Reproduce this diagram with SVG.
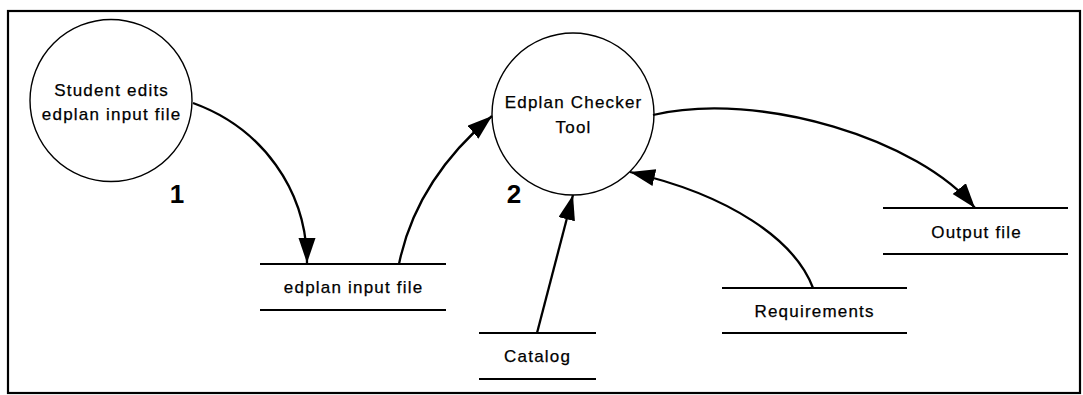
<svg xmlns="http://www.w3.org/2000/svg" width="1083" height="395" viewBox="0 0 1083 395">
<style>
.frame{fill:#fff;stroke:#000;stroke-width:2.2}
.proc{fill:#fff;stroke:#000;stroke-width:1.4}
.store{stroke:#000;stroke-width:2}
.conn{fill:none;stroke:#000;stroke-width:2.3}
.lbl{font-family:"Liberation Sans",Arial,sans-serif;font-size:17px;letter-spacing:1.2px;text-anchor:middle;fill:#000;stroke:#000;stroke-width:0.25}
.num{font-family:"Liberation Sans",Arial,sans-serif;font-size:26px;font-weight:bold;text-anchor:middle;fill:#000}
</style>
<defs>
<marker id="arr" markerUnits="userSpaceOnUse" markerWidth="27" markerHeight="19" refX="25" refY="8.5" orient="auto">
<path d="M0,0 L25,8.5 L0,17 z" fill="#000"/>
</marker>
</defs>
<rect class="frame" x="8" y="11" width="1072" height="382"/>
<g id="p1">
<circle class="proc" cx="111" cy="100.5" r="81"/>
<text class="lbl" x="111.6" y="96">Student edits</text>
<text class="lbl" x="111.6" y="120">edplan input file</text>
<text class="num" x="177" y="203">1</text>
</g>
<g id="p2">
<circle class="proc" cx="573" cy="114" r="81"/>
<text class="lbl" x="573.6" y="107.5">Edplan Checker</text>
<text class="lbl" x="573.6" y="132.5">Tool</text>
<text class="num" x="514" y="203">2</text>
</g>
<g id="s-input">
<line class="store" x1="260" y1="264" x2="446" y2="264"/>
<line class="store" x1="260" y1="310" x2="446" y2="310"/>
<text class="lbl" x="353.6" y="292.5">edplan input file</text>
</g>
<g id="s-catalog">
<line class="store" x1="479" y1="333" x2="596" y2="333"/>
<line class="store" x1="479" y1="379" x2="596" y2="379"/>
<text class="lbl" x="537.6" y="362">Catalog</text>
</g>
<g id="s-req">
<line class="store" x1="722" y1="288" x2="907" y2="288"/>
<line class="store" x1="722" y1="333" x2="907" y2="333"/>
<text class="lbl" x="814.6" y="317">Requirements</text>
</g>
<g id="s-out">
<line class="store" x1="883" y1="208" x2="1068" y2="208"/>
<line class="store" x1="883" y1="254" x2="1068" y2="254"/>
<text class="lbl" x="976.6" y="237.5">Output file</text>
</g>
<g id="connectors">
<path class="conn" marker-end="url(#arr)" d="M193,103 C262,128 307,190 307,263"/>
<path class="conn" marker-end="url(#arr)" d="M399,264 C410,210 440,160 492,116"/>
<path class="conn" marker-end="url(#arr)" d="M653,115 C760,90 920,140 975,208"/>
<path class="conn" marker-end="url(#arr)" d="M813,288 C795,240 730,195 630,172"/>
<path class="conn" marker-end="url(#arr)" d="M537,333 L573,195"/>
</g>
</svg>
